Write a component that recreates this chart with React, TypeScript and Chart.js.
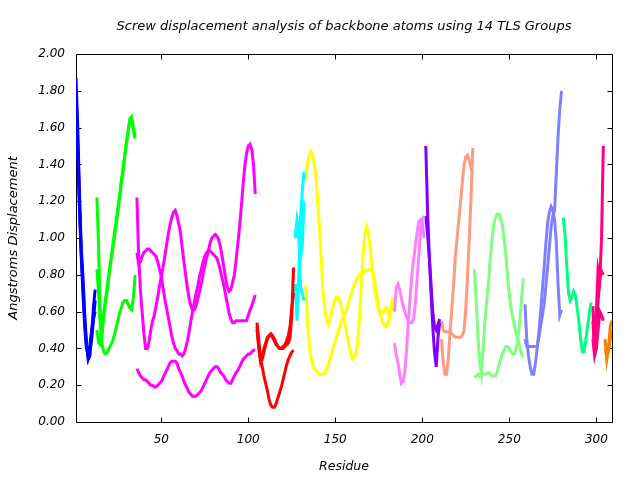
import React, { useEffect, useRef } from "react";
import { Chart, registerables } from "chart.js";

Chart.register(...registerables);

// ---- axis ticks ----
const xTickValues = [50, 100, 150, 200, 250, 300];
const yTickValues = [0, 0.2, 0.4, 0.6, 0.8, 1.0, 1.2, 1.4, 1.6, 1.8, 2.0];

// ---- TLS group 1 (blue), residues 1..12 ----
const blueStart = 1;
const blueA = [1.87, 1.6, 1.24, 0.95, 0.79, 0.59, 0.43, 0.34, 0.36, 0.48, 0.62, 0.72];
const blueB = [1.66, 1.45, 1.15, 0.9, 0.7, 0.52, 0.4, 0.37, 0.42, 0.5, 0.56, 0.6];
const blueC = [1.8, 1.52, 1.2, 0.92, 0.74, 0.55, 0.42, 0.35, 0.39, 0.45, 0.55, 0.66];

// ---- group 2 (green), residues 13..35 ----
const greenStart = 13;
const greenA = [1.22, 0.95, 0.55, 0.48, 0.58, 0.65, 0.72, 0.8, 0.87, 0.93, 1.0, 1.07, 1.14, 1.21, 1.29, 1.36, 1.44, 1.51, 1.58, 1.65, 1.66, 1.6, 1.55];
const greenB = [0.5, 0.43, 0.42, 0.5, 0.6, 0.67, 0.74, 0.81, 0.88, 0.95, 1.02, 1.09, 1.16, 1.23, 1.31, 1.38, 1.45, 1.52, 1.59, 1.64, 1.64, 1.58, 1.54];
const greenC = [0.83, 0.7, 0.52, 0.42, 0.38, 0.37, 0.38, 0.4, 0.42, 0.44, 0.47, 0.51, 0.55, 0.59, 0.62, 0.65, 0.66, 0.66, 0.64, 0.62, 0.61, 0.68, 0.8];

// ---- group 3 (magenta), residues 36..104 ----
const magentaStart = 36;
const magentaA = [1.22, 0.9, 0.72, 0.6, 0.48, 0.4, 0.4, 0.44, 0.5, 0.55, 0.58, 0.63, 0.68, 0.74, 0.79, 0.84, 0.9, 0.96, 1.02, 1.07, 1.11, 1.14, 1.15, 1.12, 1.08, 1.03, 0.95, 0.87, 0.8, 0.73, 0.67, 0.63, 0.61, 0.61, 0.63, 0.67, 0.71, 0.75, 0.8, 0.85, 0.89, 0.93, 0.97, 1.0, 1.01, 1.02, 1.01, 0.99, 0.95, 0.9, 0.84, 0.78, 0.73, 0.71, 0.72, 0.76, 0.8, 0.88, 0.97, 1.06, 1.17, 1.29, 1.39, 1.46, 1.5, 1.51, 1.48, 1.4, 1.24];
const magentaB = [0.92, 0.86, 0.87, 0.9, 0.92, 0.93, 0.94, 0.94, 0.93, 0.92, 0.91, 0.9, 0.87, 0.83, 0.79, 0.73, 0.67, 0.62, 0.57, 0.52, 0.47, 0.43, 0.4, 0.39, 0.37, 0.37, 0.36, 0.37, 0.4, 0.44, 0.49, 0.55, 0.6, 0.65, 0.7, 0.74, 0.79, 0.83, 0.87, 0.9, 0.92, 0.93, 0.93, 0.92, 0.91, 0.9, 0.89, 0.86, 0.82, 0.78, 0.74, 0.69, 0.64, 0.59, 0.56, 0.54, 0.54, 0.55, 0.55, 0.55, 0.55, 0.55, 0.55, 0.55, 0.58, 0.61, 0.63, 0.66, 0.69];
const magentaC = [0.29, 0.27, 0.25, 0.24, 0.23, 0.23, 0.22, 0.21, 0.2, 0.2, 0.19, 0.19, 0.2, 0.21, 0.22, 0.24, 0.26, 0.28, 0.3, 0.32, 0.33, 0.33, 0.33, 0.32, 0.29, 0.27, 0.25, 0.22, 0.2, 0.18, 0.16, 0.15, 0.14, 0.14, 0.14, 0.15, 0.16, 0.17, 0.19, 0.21, 0.23, 0.25, 0.27, 0.28, 0.29, 0.3, 0.3, 0.29, 0.27, 0.26, 0.25, 0.23, 0.22, 0.21, 0.21, 0.23, 0.25, 0.27, 0.28, 0.3, 0.32, 0.34, 0.35, 0.36, 0.37, 0.37, 0.38, 0.39, 0.39];

// ---- group 4 (red), residues 105..126 ----
const redStart = 105;
const redA = [0.54, 0.45, 0.34, 0.34, 0.38, 0.42, 0.45, 0.47, 0.48, 0.47, 0.45, 0.43, 0.41, 0.4, 0.4, 0.4, 0.41, 0.42, 0.43, 0.46, 0.58, 0.84];
const redB = [0.5, 0.42, 0.35, 0.3, 0.25, 0.21, 0.17, 0.12, 0.09, 0.08, 0.08, 0.1, 0.13, 0.16, 0.19, 0.23, 0.27, 0.31, 0.34, 0.36, 0.38, 0.39];
const redC = [0.52, 0.4, 0.33, 0.36, 0.4, 0.43, 0.46, 0.47, 0.47, 0.46, 0.44, 0.42, 0.41, 0.4, 0.4, 0.41, 0.42, 0.44, 0.47, 0.52, 0.62, 0.7];

// ---- group 5 (cyan), residues 127..132 ----
const cyanStart = 127;
const cyanA = [1.0, 1.1, 1.05, 0.74, 0.7, 0.66];
const cyanB = [0.75, 0.55, 0.8, 1.1, 1.25, 1.36];
const cyanC = [1.02, 1.08, 1.0, 0.9, 0.95, 1.2];

// ---- group 6 (yellow), residues 133..183 ----
const yellowStart = 133;
const yellowA = [1.32, 1.4, 1.45, 1.47, 1.45, 1.4, 1.32, 1.18, 1.04, 0.87, 0.7, 0.62, 0.55, 0.53, 0.56, 0.6, 0.64, 0.67, 0.68, 0.67, 0.64, 0.61, 0.56, 0.51, 0.46, 0.41, 0.37, 0.34, 0.35, 0.38, 0.45, 0.58, 0.76, 0.91, 1.03, 1.06, 1.02, 0.95, 0.86, 0.78, 0.69, 0.65, 0.6, 0.58, 0.55, 0.53, 0.52, 0.53, 0.56, 0.62, 0.68];
const yellowB = [0.74, 0.55, 0.42, 0.35, 0.31, 0.29, 0.28, 0.27, 0.26, 0.26, 0.26, 0.27, 0.28, 0.31, 0.34, 0.38, 0.41, 0.44, 0.47, 0.5, 0.53, 0.56, 0.58, 0.6, 0.63, 0.66, 0.69, 0.72, 0.75, 0.77, 0.79, 0.8, 0.81, 0.81, 0.82, 0.82, 0.83, 0.83, 0.83, 0.8, 0.74, 0.68, 0.62, 0.6, 0.6, 0.6, 0.62, 0.61, 0.58, 0.6, 0.68];

// ---- group 7 (light magenta), residues 184..201 ----
const orchidStart = 184;
const orchidA = [0.6, 0.73, 0.75, 0.72, 0.67, 0.63, 0.6, 0.57, 0.55, 0.54, 0.54, 0.56, 0.64, 0.78, 0.9, 1.05, 1.1, 1.12];
const orchidB = [0.43, 0.37, 0.32, 0.26, 0.21, 0.22, 0.28, 0.4, 0.55, 0.68, 0.8, 0.88, 0.96, 1.03, 1.09, 1.1, 1.08, 1.0];

// ---- group 8 (purple), residues 202..210 ----
const purpleStart = 202;
const purpleA = [1.5, 1.15, 0.9, 0.7, 0.52, 0.38, 0.3, 0.46, 0.54];
const purpleB = [1.12, 1.02, 0.9, 0.75, 0.6, 0.52, 0.5, 0.53, 0.56];

// ---- group 9 (salmon), residues 211..229 ----
const salmonStart = 211;
const salmonA = [0.45, 0.32, 0.26, 0.26, 0.35, 0.5, 0.62, 0.75, 0.9, 1.0, 1.1, 1.2, 1.3, 1.4, 1.44, 1.45, 1.42, 1.38, 1.35];
const salmonB = [0.55, 0.5, 0.49, 0.49, 0.49, 0.49, 0.48, 0.47, 0.46, 0.46, 0.46, 0.46, 0.47, 0.5, 0.62, 0.8, 1.0, 1.22, 1.49];

// ---- group 10 (light green), residues 230..258 ----
const mintStart = 230;
const mintA = [0.83, 0.65, 0.46, 0.32, 0.26, 0.4, 0.55, 0.66, 0.76, 0.88, 0.99, 1.07, 1.11, 1.13, 1.13, 1.11, 1.07, 0.99, 0.91, 0.79, 0.69, 0.62, 0.57, 0.52, 0.48, 0.44, 0.41, 0.37, 0.35];
const mintB = [0.24, 0.25, 0.26, 0.25, 0.26, 0.26, 0.26, 0.26, 0.27, 0.26, 0.25, 0.25, 0.25, 0.27, 0.31, 0.34, 0.37, 0.39, 0.41, 0.41, 0.4, 0.38, 0.37, 0.37, 0.4, 0.46, 0.55, 0.66, 0.78];

// ---- group 11 (light blue), residues 259..280 ----
const lavenderStart = 259;
const lavenderA = [0.64, 0.45, 0.36, 0.3, 0.26, 0.26, 0.32, 0.4, 0.49, 0.6, 0.72, 0.84, 0.97, 1.08, 1.14, 1.17, 1.15, 1.1, 0.98, 0.75, 0.58, 0.61];
const lavenderB = [0.45, 0.41, 0.41, 0.41, 0.41, 0.41, 0.41, 0.41, 0.46, 0.52, 0.58, 0.64, 0.74, 0.84, 0.95, 1.06, 1.12, 1.15, 1.35, 1.55, 1.7, 1.8];

// ---- group 12 (spring green), residues 281..297 ----
const springStart = 281;
const springA = [1.11, 1.02, 0.85, 0.7, 0.66, 0.68, 0.71, 0.69, 0.62, 0.54, 0.45, 0.38, 0.38, 0.45, 0.52, 0.59, 0.65];

// ---- group 13 (deep pink), residues 298..304 ----
const roseStart = 298;
const roseA = [0.63, 0.36, 0.6, 0.83, 0.78, 1.0, 1.5];
const roseB = [0.55, 0.4, 0.5, 0.65, 0.78, 0.82, 0.8];
const roseC = [0.45, 0.36, 0.4, 0.5, 0.6, 0.58, 0.55];

// ---- group 14 (orange), residues 305..309 ----
const orangeStart = 305;
const orangeA = [0.45, 0.34, 0.4, 0.52, 0.55];
const orangeB = [0.4, 0.36, 0.38, 0.45, 0.5];

const groups = [
  { start: blueStart, color: "#0000ff", series: [blueA, blueB, blueC] },
  { start: greenStart, color: "#00ff00", series: [greenA, greenB, greenC] },
  { start: magentaStart, color: "#ff00ff", series: [magentaA, magentaB, magentaC] },
  { start: redStart, color: "#ff0000", series: [redA, redB, redC] },
  { start: cyanStart, color: "#00ffff", series: [cyanA, cyanB, cyanC] },
  { start: yellowStart, color: "#ffff00", series: [yellowA, yellowB] },
  { start: orchidStart, color: "#ff80ff", series: [orchidA, orchidB] },
  { start: purpleStart, color: "#8000ff", series: [purpleA, purpleB] },
  { start: salmonStart, color: "#ff9980", series: [salmonA, salmonB] },
  { start: mintStart, color: "#80ff80", series: [mintA, mintB] },
  { start: lavenderStart, color: "#8080ff", series: [lavenderA, lavenderB] },
  { start: springStart, color: "#00ff80", series: [springA] },
  { start: roseStart, color: "#ff0080", series: [roseA, roseB, roseC] },
  { start: orangeStart, color: "#ff8000", series: [orangeA, orangeB] },
];

const FONT = "'DejaVu Sans', sans-serif";

const framePlugin = {
  id: "gnuplotFrame",
  beforeDatasetsDraw(chart: any) {
    const { ctx, chartArea, scales } = chart;
    const { left, right, top, bottom } = chartArea;
    const xs = scales.x;
    const ys = scales.y;
    const tick = 5;
    ctx.save();
    ctx.strokeStyle = "#000";
    ctx.lineWidth = 1;
    ctx.beginPath();
    const l = Math.round(left) + 0.5;
    const r = Math.round(right) + 0.5;
    const t = Math.round(top) + 0.5;
    const b = Math.round(bottom) + 0.5;
    ctx.moveTo(l, t);
    ctx.lineTo(r, t);
    ctx.lineTo(r, b);
    ctx.lineTo(l, b);
    ctx.closePath();
    xs.ticks.forEach((tk: any) => {
      const px = Math.round(xs.getPixelForValue(tk.value)) + 0.5;
      ctx.moveTo(px, b);
      ctx.lineTo(px, b - tick);
      ctx.moveTo(px, t);
      ctx.lineTo(px, t + tick);
    });
    ys.ticks.forEach((tk: any) => {
      const py = Math.round(ys.getPixelForValue(tk.value)) + 0.5;
      ctx.moveTo(l, py);
      ctx.lineTo(l + tick, py);
      ctx.moveTo(r, py);
      ctx.lineTo(r - tick, py);
    });
    ctx.stroke();
    ctx.restore();
  },
};

export default function App() {
  const canvasRef = useRef<HTMLCanvasElement | null>(null);

  useEffect(() => {
    if (!canvasRef.current) return;
    const datasets: any[] = [];
    groups.forEach((g) => {
      g.series.forEach((vals) => {
        datasets.push({
          data: vals.map((v, i) => ({ x: g.start + i, y: v })),
          borderColor: g.color,
          backgroundColor: g.color,
          borderWidth: 3,
          pointRadius: 0,
          tension: 0,
          fill: false,
        });
      });
    });

    const chart = new Chart(canvasRef.current, {
      type: "line",
      data: { datasets },
      options: {
        animation: false,
        responsive: false,
        events: [],
        layout: { padding: { left: 0, right: 28, top: 0, bottom: 0 } },
        plugins: {
          legend: { display: false },
          tooltip: { enabled: false },
          title: {
            display: true,
            fullSize: false,
            text: "Screw displacement analysis of backbone atoms using 14 TLS Groups",
            color: "#000",
            font: { family: FONT, size: 13, style: "italic", weight: "normal" },
            padding: { top: 18.9, bottom: 19.5 },
          },
        },
        scales: {
          x: {
            type: "linear",
            min: 1,
            max: 309,
            afterFit: (s: any) => {
              s.height = 58;
            },
            afterBuildTicks: (s: any) => {
              s.ticks = xTickValues.map((v) => ({ value: v }));
            },
            grid: { display: false, drawTicks: false },
            border: { display: false },
            ticks: {
              color: "#000",
              padding: 11,
              maxRotation: 0,
              font: { family: FONT, size: 12, style: "italic" },
              callback: (v: any) => String(v),
            },
            title: {
              display: true,
              text: "Residue",
              color: "#000",
              font: { family: FONT, size: 12.5, style: "italic" },
              padding: { top: 0, bottom: 5.5 },
            },
          },
          y: {
            type: "linear",
            min: 0,
            max: 2,
            afterFit: (s: any) => {
              s.width = 76;
            },
            afterBuildTicks: (s: any) => {
              s.ticks = yTickValues.map((v) => ({ value: v }));
            },
            grid: { display: false, drawTicks: false },
            border: { display: false },
            ticks: {
              color: "#000",
              padding: 11,
              font: { family: FONT, size: 12, style: "italic" },
              callback: (v: any) => Number(v).toFixed(2),
            },
            title: {
              display: true,
              text: "Angstroms Displacement",
              color: "#000",
              font: { family: FONT, size: 13, style: "italic" },
              padding: { top: 5.5, bottom: 0 },
            },
          },
        },
      },
      plugins: [framePlugin],
    });
    return () => chart.destroy();
  }, []);

  return (
    <div style={{ position: "fixed", left: 0, top: 0, width: 640, height: 480, background: "#fff" }}>
      <canvas ref={canvasRef} width={640} height={480} style={{ width: 640, height: 480 }} />
    </div>
  );
}
